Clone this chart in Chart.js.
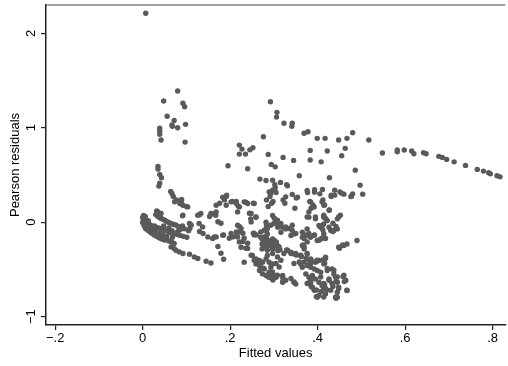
<!DOCTYPE html>
<html>
<head>
<meta charset="utf-8">
<script src="https://cdn.jsdelivr.net/npm/chart.js@4/dist/chart.umd.min.js"></script>
<style>
  html, body { margin: 0; padding: 0; background: #fff; }
  #wrap { width: 508px; height: 366px; }
</style>
</head>
<body>
<div id="wrap"><canvas id="chart" width="508" height="366"></canvas></div>
<script>
// axis ticks
const xTicks = [-0.2, 0, 0.2, 0.4, 0.6, 0.8];
const xTickLabels = ["\u2212.2", "0", ".2", ".4", ".6", ".8"];
const yTicks = [-1, 0, 1, 2];
const yTickLabels = ["\u22121", "0", "1", "2"];
const xTitle = "Fitted values";
const yTitle = "Pearson residuals";

// [fitted value, pearson residual], grouped by region
const outlier = [[0.007, 2.213]];

const earlyHigh = [
  [0.080, 1.389], [0.048, 1.283], [0.092, 1.259], [0.096, 1.223], [0.056, 1.121],
  [0.072, 1.078], [0.067, 1.029], [0.068, 1.015], [0.080, 1.000], [0.098, 1.036],
  [0.039, 0.994], [0.039, 0.965], [0.039, 0.930], [0.042, 0.870], [0.097, 0.848]
];

const earlyChain = [
  [0.035, 0.591], [0.035, 0.562], [0.039, 0.506], [0.043, 0.470], [0.039, 0.414],
  [0.037, 0.382], [0.064, 0.326], [0.067, 0.304], [0.070, 0.272], [0.077, 0.236],
  [0.089, 0.241], [0.089, 0.201], [0.100, 0.166], [0.073, 0.215], [0.085, 0.198],
  [0.092, 0.180], [0.103, 0.162], [0.032, 0.120], [0.035, 0.109], [0.042, 0.092],
  [0.039, 0.074], [0.043, 0.039]
];

const originCluster = [
  [0.000, 0.050], [0.002, 0.030], [0.004, 0.010], [0.001, -0.010], [0.003, -0.030],
  [0.006, 0.060], [0.008, 0.020], [0.005, -0.050], [0.010, 0.000], [0.012, -0.020],
  [0.002, 0.070], [0.000, 0.000], [0.007, -0.070], [0.010, -0.040], [0.004, 0.045],
  [0.013, 0.015],
  [0.012, -0.085], [0.016, -0.100], [0.020, -0.115], [0.024, -0.125], [0.028, -0.140],
  [0.032, -0.150], [0.036, -0.160], [0.040, -0.170], [0.045, -0.180], [0.050, -0.190],
  [0.055, -0.185], [0.060, -0.200], [0.066, -0.210], [0.072, -0.225],
  [0.018, -0.030], [0.022, -0.045], [0.027, -0.040], [0.032, -0.055], [0.037, -0.060],
  [0.042, -0.075], [0.047, -0.070], [0.052, -0.090], [0.057, -0.095], [0.062, -0.110],
  [0.067, -0.090], [0.072, -0.120], [0.079, -0.130], [0.086, -0.140], [0.093, -0.150],
  [0.101, -0.160],
  [0.030, 0.080], [0.035, 0.060], [0.040, 0.045], [0.046, 0.030], [0.051, 0.020],
  [0.056, 0.005], [0.061, -0.005], [0.066, -0.015], [0.071, -0.025], [0.076, -0.030],
  [0.081, -0.045], [0.088, -0.055], [0.095, -0.070], [0.105, -0.090],
  [0.040, -0.120], [0.046, -0.135], [0.025, -0.085], [0.055, -0.150], [0.060, -0.060],
  [0.080, -0.100], [0.030, -0.100], [0.048, -0.040], [0.068, -0.160], [0.085, -0.080],
  [0.015, -0.060]
];

const lowChain = [
  [0.065, -0.262], [0.072, -0.280], [0.076, -0.297], [0.084, -0.315], [0.092, -0.332],
  [0.107, -0.339], [0.118, -0.368], [0.126, -0.385], [0.145, -0.414], [0.156, -0.432]
];

const leftScatter = [
  [0.091, 0.067], [0.092, 0.074], [0.126, 0.074], [0.133, 0.092], [0.130, 0.078],
  [0.153, 0.060], [0.160, 0.088], [0.156, 0.092], [0.167, 0.074], [0.176, 0.201],
  [0.187, 0.236], [0.191, 0.272], [0.205, 0.219], [0.214, 0.219], [0.218, 0.173],
  [0.236, 0.212], [0.244, 0.095], [0.172, 0.005], [0.179, -0.011], [0.111, -0.029],
  [0.108, -0.064], [0.107, -0.014], [0.091, -0.039], [0.129, -0.014], [0.137, -0.050],
  [0.130, -0.099], [0.138, -0.120], [0.149, -0.156], [0.164, -0.156], [0.160, -0.173],
  [0.172, -0.258], [0.179, -0.329], [0.185, -0.392], [0.185, -0.135], [0.198, -0.170],
  [0.206, -0.156], [0.215, -0.117], [0.221, -0.046], [0.229, -0.117], [0.232, -0.170],
  [0.229, -0.205], [0.225, -0.265], [0.236, -0.276], [0.240, -0.223], [0.168, 0.180],
  [0.191, 0.180], [0.202, 0.215], [0.214, 0.198], [0.221, 0.162], [0.232, 0.215],
  [0.240, 0.198], [0.255, 0.198], [0.168, 0.109], [0.217, 0.109], [0.248, 0.092],
  [0.248, 0.003], [0.259, 0.056], [0.217, -0.032], [0.225, -0.067], [0.221, -0.103],
  [0.183, -0.138], [0.202, -0.120], [0.214, -0.103], [0.217, -0.156], [0.221, -0.209],
  [0.255, -0.120], [0.168, -0.156], [0.240, -0.279], [0.248, -0.350], [0.255, -0.403],
  [0.232, -0.424]
];

const upperScatter = [
  [0.195, 0.597], [0.221, 0.816], [0.221, 0.721], [0.235, 0.721], [0.227, 0.774],
  [0.245, 0.766], [0.252, 0.788], [0.240, 0.565], [0.292, 1.276], [0.307, 1.163],
  [0.306, 1.113], [0.323, 1.047], [0.342, 1.047], [0.341, 1.015], [0.276, 0.905],
  [0.287, 0.718], [0.321, 0.686], [0.345, 0.654], [0.294, 0.612], [0.303, 0.586],
  [0.268, 0.456], [0.282, 0.442], [0.297, 0.445], [0.315, 0.421], [0.331, 0.385],
  [0.289, 0.321], [0.297, 0.339], [0.303, 0.364], [0.305, 0.315], [0.293, 0.304],
  [0.342, 0.294], [0.183, 0.265], [0.192, 0.286], [0.327, 0.268], [0.369, 0.941],
  [0.378, 0.958], [0.399, 0.888], [0.417, 0.888], [0.448, 0.870], [0.467, 0.888],
  [0.480, 0.947], [0.517, 0.870], [0.383, 0.760], [0.422, 0.753], [0.463, 0.782],
  [0.455, 0.703], [0.383, 0.658], [0.408, 0.639], [0.486, 0.551], [0.358, 0.491],
  [0.427, 0.470], [0.497, 0.392], [0.376, 0.336], [0.377, 0.315], [0.393, 0.343],
  [0.393, 0.318], [0.411, 0.347], [0.405, 0.300], [0.439, 0.339], [0.431, 0.286],
  [0.439, 0.286], [0.451, 0.321], [0.460, 0.297], [0.480, 0.300], [0.477, 0.273],
  [0.503, 0.297], [0.354, 0.265], [0.302, 0.396], [0.329, 0.396], [0.351, 0.255],
  [0.454, 0.308], [0.431, 0.272], [0.476, 0.272], [0.291, 0.272], [0.283, 0.236],
  [0.287, 0.166], [0.295, 0.201], [0.298, 0.219], [0.321, 0.236], [0.325, 0.201],
  [0.348, 0.148], [0.382, 0.219], [0.389, 0.183], [0.385, 0.148], [0.412, 0.236],
  [0.416, 0.183], [0.427, 0.130], [0.253, 0.201], [0.384, 0.215], [0.392, 0.162],
  [0.410, 0.215], [0.414, 0.180], [0.426, 0.127], [0.380, 0.109], [0.376, 0.056],
  [0.395, 0.056], [0.414, 0.074], [0.418, 0.039], [0.448, 0.056], [0.452, 0.074]
];

const tail = [
  [0.548, 0.732], [0.582, 0.764], [0.582, 0.746], [0.598, 0.764], [0.615, 0.753],
  [0.620, 0.724], [0.642, 0.735], [0.648, 0.724], [0.677, 0.697], [0.685, 0.686],
  [0.695, 0.665], [0.712, 0.639], [0.738, 0.601], [0.765, 0.559], [0.779, 0.541],
  [0.791, 0.523], [0.795, 0.512], [0.810, 0.491], [0.817, 0.480]
];

const mainCluster = [
  [0.247, 0.035], [0.259, 0.053], [0.297, 0.071], [0.301, 0.042], [0.380, 0.053],
  [0.395, 0.035], [0.414, 0.053], [0.422, 0.018], [0.445, 0.035], [0.282, 0.000],
  [0.305, -0.018], [0.309, -0.053], [0.320, -0.053], [0.327, -0.071], [0.316, -0.106],
  [0.282, -0.071], [0.285, -0.124], [0.255, -0.135], [0.342, -0.088], [0.339, -0.141],
  [0.346, -0.124], [0.365, -0.106], [0.365, -0.159], [0.376, -0.071], [0.380, -0.141],
  [0.384, -0.159], [0.403, -0.035], [0.407, -0.053], [0.414, -0.018], [0.426, -0.053],
  [0.430, -0.088], [0.437, -0.088], [0.445, -0.071], [0.414, -0.124], [0.407, -0.177],
  [0.399, -0.194], [0.270, -0.159], [0.273, -0.177], [0.277, -0.194], [0.282, -0.212],
  [0.273, -0.230], [0.288, -0.247], [0.277, -0.265], [0.273, -0.283], [0.293, -0.230],
  [0.297, -0.177], [0.301, -0.194], [0.305, -0.212], [0.301, -0.247], [0.297, -0.283],
  [0.309, -0.300], [0.365, -0.247], [0.369, -0.283], [0.448, -0.265], [0.460, -0.247],
  [0.467, -0.230], [0.490, -0.194], [0.331, -0.300], [0.339, -0.318], [0.346, -0.336],
  [0.361, -0.353], [0.376, -0.336], [0.384, -0.389], [0.418, -0.371], [0.403, -0.406],
  [0.395, -0.424], [0.414, -0.442], [0.251, -0.353], [0.259, -0.389], [0.267, -0.406],
  [0.259, -0.442], [0.267, -0.459], [0.274, -0.424], [0.282, -0.389], [0.285, -0.353],
  [0.289, -0.424], [0.297, -0.442], [0.293, -0.477], [0.278, -0.495], [0.267, -0.512],
  [0.274, -0.548], [0.282, -0.565], [0.289, -0.583], [0.297, -0.601], [0.305, -0.583],
  [0.297, -0.548], [0.289, -0.530], [0.320, -0.565], [0.320, -0.636], [0.346, -0.636],
  [0.350, -0.654], [0.361, -0.442], [0.365, -0.477], [0.376, -0.459], [0.384, -0.477],
  [0.392, -0.495], [0.399, -0.512], [0.373, -0.548], [0.380, -0.583], [0.388, -0.565],
  [0.395, -0.601], [0.384, -0.636], [0.388, -0.689], [0.403, -0.636], [0.410, -0.671],
  [0.414, -0.707], [0.418, -0.760], [0.403, -0.777], [0.399, -0.795], [0.426, -0.601],
  [0.437, -0.548], [0.441, -0.583], [0.445, -0.636], [0.448, -0.689], [0.445, -0.742],
  [0.445, -0.795], [0.464, -0.618], [0.467, -0.724], [0.433, -0.495], [0.422, -0.512],
  [0.407, -0.530], [0.397, -0.788], [0.442, -0.806], [0.321, -0.612], [0.298, -0.612],
  [0.287, -0.576], [0.378, -0.647], [0.385, -0.682], [0.397, -0.718], [0.408, -0.735],
  [0.416, -0.665], [0.421, -0.718], [0.435, -0.682], [0.442, -0.629], [0.458, -0.576],
  [0.461, -0.629], [0.405, -0.046], [0.412, -0.029], [0.435, -0.011], [0.442, -0.046],
  [0.435, -0.099], [0.412, -0.082], [0.450, -0.276], [0.457, -0.241], [0.253, -0.117],
  [0.260, -0.135], [0.283, -0.082], [0.283, -0.029], [0.283, -0.152], [0.276, -0.188],
  [0.283, -0.205], [0.295, -0.188], [0.306, -0.223], [0.310, -0.258], [0.314, -0.293],
  [0.298, -0.276], [0.329, -0.293], [0.340, -0.329], [0.351, -0.347], [0.363, -0.364],
  [0.374, -0.382], [0.385, -0.400], [0.397, -0.417], [0.412, -0.400], [0.416, -0.435],
  [0.367, -0.152], [0.374, -0.135], [0.382, -0.152], [0.367, -0.241], [0.393, -0.135],
  [0.268, -0.453], [0.276, -0.488], [0.287, -0.559], [0.295, -0.594], [0.350, -0.120],
  [0.380, -0.120], [0.392, -0.138], [0.369, -0.173], [0.376, -0.209], [0.403, -0.191],
  [0.410, -0.173], [0.418, -0.173], [0.369, -0.262], [0.376, -0.332], [0.361, -0.350],
  [0.350, -0.332], [0.358, -0.421], [0.369, -0.421], [0.380, -0.403], [0.384, -0.438],
  [0.399, -0.403], [0.418, -0.385], [0.422, -0.491], [0.437, -0.509], [0.445, -0.580],
  [0.460, -0.562], [0.464, -0.615], [0.467, -0.721], [0.448, -0.703], [0.441, -0.792],
  [0.418, -0.703], [0.414, -0.792], [0.392, -0.721], [0.376, -0.650], [0.384, -0.615],
  [0.407, -0.580], [0.426, -0.615], [0.414, -0.650], [0.433, -0.650], [0.430, -0.721],
  [0.346, -0.438], [0.346, -0.633], [0.270, -0.103], [0.278, -0.085], [0.285, -0.067],
  [0.293, -0.032], [0.300, -0.014], [0.308, 0.021], [0.316, -0.014], [0.327, -0.050],
  [0.335, -0.067], [0.342, -0.032], [0.278, -0.156], [0.285, -0.191], [0.293, -0.226],
  [0.305, -0.209], [0.312, -0.262], [0.278, -0.262], [0.285, -0.297], [0.297, -0.332],
  [0.308, -0.368], [0.316, -0.403], [0.323, -0.332], [0.331, -0.297], [0.339, -0.332],
  [0.305, -0.438], [0.312, -0.474], [0.297, -0.527], [0.308, -0.562], [0.320, -0.580],
  [0.327, -0.615], [0.339, -0.597]
];

const allPoints = [].concat(outlier, earlyHigh, earlyChain, originCluster, lowChain,
  leftScatter, upperScatter, tail, mainCluster).map(p => ({ x: p[0], y: p[1] }));

const FONT = "'Liberation Sans', Arial, Helvetica, sans-serif";

const stataText = {
  id: "stataText",
  afterDraw(chart) {
    const ctx = chart.ctx;
    const area = chart.chartArea;
    const xs = chart.scales.x;
    const ys = chart.scales.y;
    ctx.save();

    // thin frame line along the top of the plot region
    ctx.strokeStyle = "#808080";
    ctx.lineWidth = 1.5;
    ctx.beginPath();
    ctx.moveTo(area.left, area.top);
    ctx.lineTo(area.right, area.top);
    ctx.stroke();

    ctx.fillStyle = "#000";
    ctx.font = "13px " + FONT;
    ctx.textAlign = "center";
    ctx.textBaseline = "middle";

    xTicks.forEach((v, i) => {
      ctx.fillText(xTickLabels[i], xs.getPixelForValue(v), 338);
    });
    ctx.fillText(xTitle, (area.left + area.right) / 2, 353);

    yTicks.forEach((v, i) => {
      ctx.save();
      ctx.translate(31, ys.getPixelForValue(v));
      ctx.rotate(-Math.PI / 2);
      ctx.fillText(yTickLabels[i], 0, 0);
      ctx.restore();
    });

    ctx.save();
    ctx.translate(15, (area.top + area.bottom) / 2);
    ctx.rotate(-Math.PI / 2);
    ctx.fillText(yTitle, 0, 0);
    ctx.restore();

    ctx.restore();
  }
};

new Chart(document.getElementById("chart").getContext("2d"), {
  type: "scatter",
  data: {
    datasets: [
      {
        data: allPoints,
        backgroundColor: "#5a5a5a",
        borderWidth: 0,
        pointRadius: 2.7,
        pointHoverRadius: 2.7
      }
    ]
  },
  options: {
    responsive: false,
    animation: false,
    events: [],
    layout: { padding: { top: 5, right: 0, left: 0, bottom: 0 } },
    plugins: {
      legend: { display: false },
      tooltip: { enabled: false }
    },
    scales: {
      x: {
        type: "linear",
        min: -0.221,
        max: 0.829,
        afterBuildTicks: s => { s.ticks = xTicks.map(v => ({ value: v })); },
        afterFit: s => { s.height = 41; },
        ticks: { display: false },
        grid: { drawOnChartArea: false, drawTicks: true, tickLength: 5, color: "#222", lineWidth: 1.2 },
        border: { display: true, color: "#222", width: 1.5 }
      },
      y: {
        type: "linear",
        min: -1.089,
        max: 2.30,
        afterBuildTicks: s => { s.ticks = yTicks.map(v => ({ value: v })); },
        afterFit: s => { s.width = 46; },
        ticks: { display: false },
        grid: { drawOnChartArea: false, drawTicks: true, tickLength: 5, color: "#222", lineWidth: 1.2 },
        border: { display: true, color: "#222", width: 1.5 }
      }
    }
  },
  plugins: [stataText]
});
</script>
</body>
</html>
